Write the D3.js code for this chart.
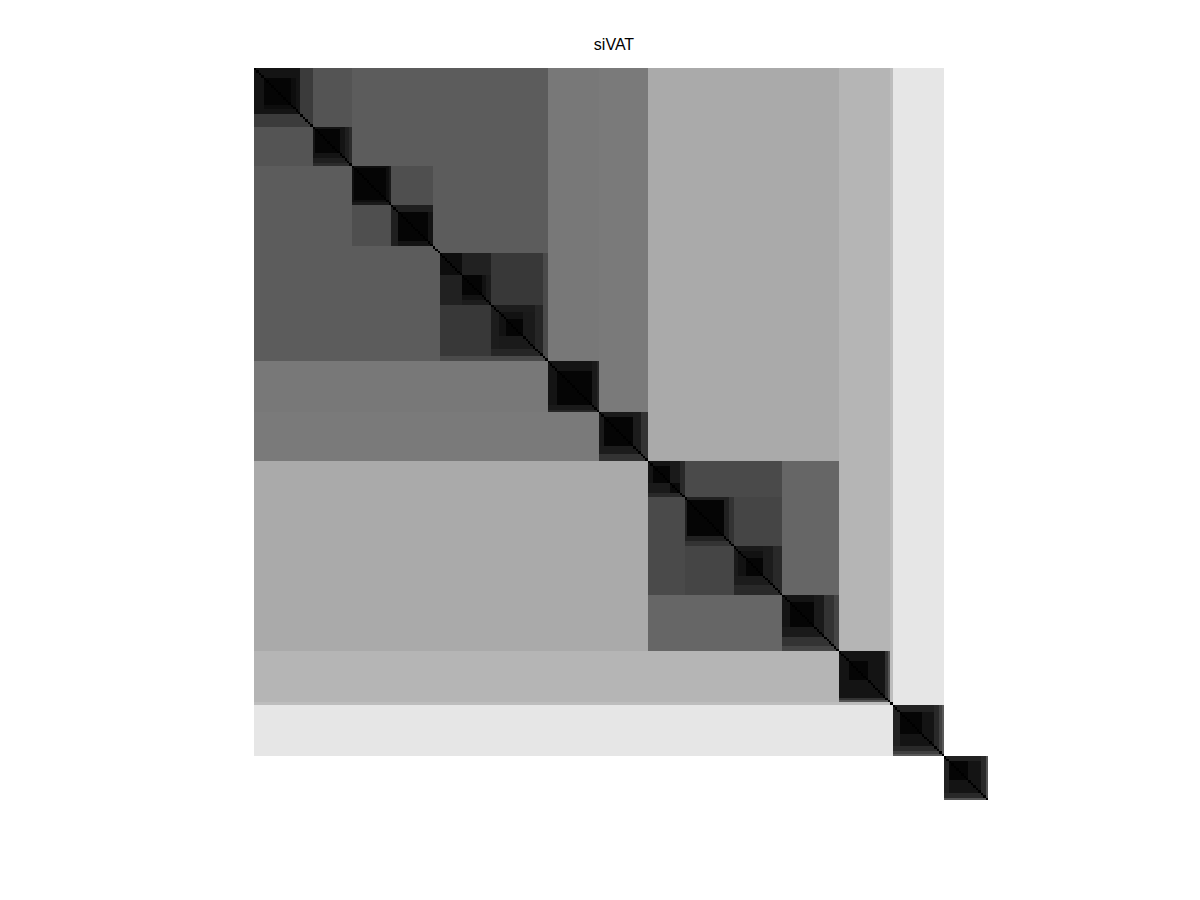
<!DOCTYPE html>
<html>
<head>
<meta charset="utf-8">
<script src="https://cdn.jsdelivr.net/npm/d3@7"></script>
<style>
  body { margin: 0; background: #fff; }
  text { font-family: "Liberation Sans", Arial, sans-serif; }
</style>
</head>
<body>
<div id="chart"></div>
<script>
//--------------------------- DATA ---------------------------//
// siVAT: points in VAT order; each run gives how many consecutive points
// joined the points before them at the given (normalised) MST distance
const N = 300;
const runLen = [
  1, 4, 10, 2, 2, 5,          // C1 + bridge
  1, 1, 9, 2, 2, 1,           // C2
  1, 1, 12, 1, 1,             // C3
  1, 3, 11, 2,                // C4
  4,                          // outliers
  8, 1, 7, 2, 2,              // C5
  1, 3, 3, 6, 5, 3, 2,        // C6
  1, 4, 13, 2, 1,             // C7
  1, 2, 11, 3, 3,             // C8
  1, 2, 6, 1, 3, 2,           // C9a
  1, 1, 14, 2, 2,             // C9b
  1, 2, 3, 6, 4, 4,           // C9c
  1, 3, 9, 4, 4, 2,           // C9d
  1, 4, 7, 7, 1, 1, 1,        // C10
  1, 3, 8, 5, 2, 1, 1,        // C11
  1, 2, 7, 5, 2, 1            // C12
];
const runW = [
  0, 0.08, 0.02, 0.05, 0.08, 0.23,
  0.33, 0.08, 0.02, 0.08, 0.12, 0.17,
  0.36, 0.06, 0.02, 0.06, 0.10,
  0.31, 0.12, 0.02, 0.08,
  0.36,
  0.05, 0.13, 0.02, 0.07, 0.11,
  0.22, 0.11, 0.07, 0.02, 0.10, 0.15, 0.29,
  0.47, 0.08, 0.02, 0.10, 0.15,
  0.48, 0.10, 0.02, 0.11, 0.20,
  0.667, 0.08, 0.02, 0.10, 0.04, 0.16,
  0.29, 0.13, 0.02, 0.13, 0.20,
  0.27, 0.10, 0.07, 0.02, 0.11, 0.16,
  0.40, 0.08, 0.02, 0.10, 0.20, 0.27,
  0.71, 0.08, 0.02, 0.08, 0.20, 0.33, 0.74,
  0.90, 0.13, 0.02, 0.08, 0.16, 0.25, 0.35,
  1.0, 0.13, 0.02, 0.08, 0.16, 0.33
];
const titleText = "siVAT";

//------------------------- MATRIX ---------------------------//
// link weight of each point
const w = [];
runLen.forEach((len, r) => { for (let k = 0; k < len; k++) w.push(runW[r]); });

// iVAT distance: largest link met between i and j along the ordering
const D = Array.from({ length: N }, () => new Array(N).fill(0));
for (let i = 0; i < N; i++) {
  let m = 0;
  for (let j = i + 1; j < N; j++) {
    m = Math.max(m, w[j]);
    D[i][j] = m;
    D[j][i] = m;
  }
}

// merge equal neighbours in a row into one cell run
const cells = [];
for (let i = 0; i < N; i++) {
  let start = 0;
  for (let j = 1; j <= N; j++) {
    if (j === N || D[i][j] !== D[i][start]) {
      cells.push({ row: i, c0: start, c1: j, v: D[i][start] });
      start = j;
    }
  }
}

//-------------------------- SVG -----------------------------//
const width = 1200, height = 900;
const svg = d3.select("#chart").append("svg")
  .attr("width", width)
  .attr("height", height);

const x = d3.scaleLinear().domain([0, N]).range([254, 988]);
const y = d3.scaleLinear().domain([0, N]).range([68, 800]);
const gray = d3.scaleLinear().domain([0, 1]).range(["#000000", "#ffffff"]);

svg.append("g")
  .attr("class", "cells")
  .attr("shape-rendering", "crispEdges")
  .selectAll("rect")
  .data(cells)
  .enter()
  .append("rect")
  .attr("x", d => x(d.c0))
  .attr("y", d => y(d.row))
  .attr("width", d => x(d.c1) - x(d.c0))
  .attr("height", d => y(d.row + 1) - y(d.row))
  .attr("fill", d => gray(d.v));

svg.append("text")
  .attr("x", 614)
  .attr("y", 50)
  .attr("text-anchor", "middle")
  .attr("font-size", 16)
  .attr("fill", "#000")
  .text(titleText);
</script>
</body>
</html>
